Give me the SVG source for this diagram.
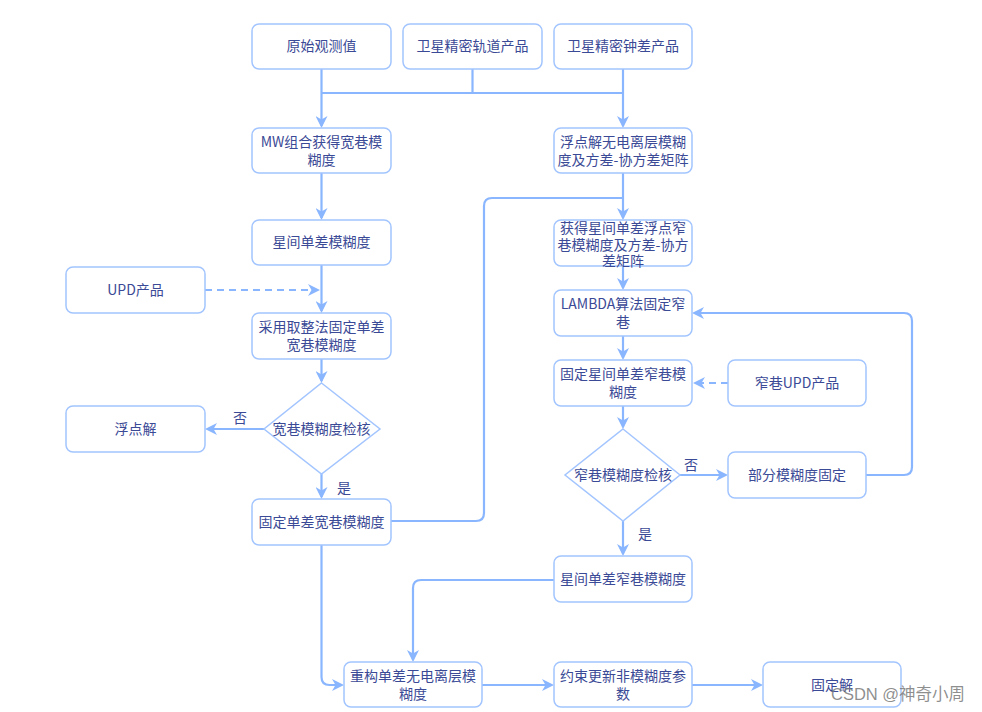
<svg xmlns="http://www.w3.org/2000/svg" width="982" height="712" viewBox="0 0 982 712">
<defs>
<style>
.box{fill:#ffffff;stroke:#a3c5ff;stroke-width:1.5}
.t{font-family:"Noto Sans CJK SC","Liberation Sans",sans-serif;font-size:14px;fill:#3b4a96;text-anchor:middle}
.l{font-family:"Noto Sans CJK SC","Liberation Sans",sans-serif;font-size:14px;fill:#3b4a96}
.c{fill:none;stroke:#8ab6ff;stroke-width:2.2}
.d{fill:none;stroke:#8ab6ff;stroke-width:2.2;stroke-dasharray:7 5}
.wm{font-family:"Liberation Sans","Noto Sans CJK SC",sans-serif;font-size:16.5px;fill:#7a7a7a;fill-opacity:0.85}
</style>
<marker id="ah" viewBox="0 0 12 12" refX="10" refY="6" markerWidth="12" markerHeight="12" markerUnits="userSpaceOnUse" orient="auto">
<path d="M0,0 L12,6 L0,12 L3.5,6 z" fill="#8ab6ff"/>
</marker>
</defs>
<rect width="982" height="712" fill="#ffffff"/>
<g id="connectors">
<path class="c" d="M321.5,69 V93"/>
<path class="c" d="M472.5,69 V93"/>
<path class="c" d="M623,69 V93"/>
<path class="c" d="M321.5,93 H623"/>
<path class="c" d="M321.5,93 V126" marker-end="url(#ah)"/>
<path class="c" d="M623,93 V126" marker-end="url(#ah)"/>
<path class="c" d="M321.5,173 V218" marker-end="url(#ah)"/>
<path class="c" d="M321.5,265 V311" marker-end="url(#ah)"/>
<path class="d" d="M205,290 H318" marker-end="url(#ah)"/>
<path class="c" d="M321.5,359 V381" marker-end="url(#ah)"/>
<path class="c" d="M264,429 H207" marker-end="url(#ah)"/>
<path class="c" d="M321.5,474 V497" marker-end="url(#ah)"/>
<path class="c" d="M391,521 H476 Q484,521 484,513 V206 Q484,198 492,198 H623"/>
<path class="c" d="M623,173 V218" marker-end="url(#ah)"/>
<path class="c" d="M623,266 V288" marker-end="url(#ah)"/>
<path class="c" d="M623,336 V358" marker-end="url(#ah)"/>
<path class="d" d="M728,383 H695" marker-end="url(#ah)"/>
<path class="c" d="M623,406 V427" marker-end="url(#ah)"/>
<path class="c" d="M680,475 H726" marker-end="url(#ah)"/>
<path class="c" d="M866,475 H904 Q912,475 912,467 V321 Q912,313 904,313 H694" marker-end="url(#ah)"/>
<path class="c" d="M623,521 V554" marker-end="url(#ah)"/>
<path class="c" d="M554,580 H421 Q413,580 413,588 V660" marker-end="url(#ah)"/>
<path class="c" d="M321.5,545 V677 Q321.5,685 329.5,685 H342" marker-end="url(#ah)"/>
<path class="c" d="M482,685 H552" marker-end="url(#ah)"/>
<path class="c" d="M692,685 H761" marker-end="url(#ah)"/>
<text class="l" x="233" y="423">否</text>
<text class="l" x="337" y="493">是</text>
<text class="l" x="684" y="470">否</text>
<text class="l" x="638" y="539">是</text>
</g>
<g id="n1"><rect class="box" x="252" y="24" width="139" height="45" rx="7"/><text class="t" x="321.5" y="51">原始观测值</text></g>
<g id="n2"><rect class="box" x="403" y="24" width="139" height="45" rx="7"/><text class="t" x="472.5" y="51">卫星精密轨道产品</text></g>
<g id="n3"><rect class="box" x="554" y="24" width="138" height="45" rx="7"/><text class="t" x="623" y="51">卫星精密钟差产品</text></g>
<g id="n4"><rect class="box" x="252" y="128" width="139" height="45" rx="7"/><text class="t" x="321.5" y="147">MW组合获得宽巷模</text><text class="t" x="321.5" y="165">糊度</text></g>
<g id="n5"><rect class="box" x="554" y="128" width="138" height="45" rx="7"/><text class="t" x="623" y="147">浮点解无电离层模糊</text><text class="t" x="623" y="165">度及方差-协方差矩阵</text></g>
<g id="n6"><rect class="box" x="252" y="220" width="139" height="45" rx="7"/><text class="t" x="321.5" y="247">星间单差模糊度</text></g>
<g id="n7"><rect class="box" x="66" y="267" width="139" height="46" rx="7"/><text class="t" x="135.5" y="295">UPD产品</text></g>
<g id="n8"><rect class="box" x="252" y="313" width="139" height="46" rx="7"/><text class="t" x="321.5" y="332">采用取整法固定单差</text><text class="t" x="321.5" y="350">宽巷模糊度</text></g>
<g id="n9"><polygon class="box" points="321.5,383 380,429 321.5,474 264,429"/><text class="t" x="321.5" y="434">宽巷模糊度检核</text></g>
<g id="n10"><rect class="box" x="66" y="406" width="139" height="46" rx="7"/><text class="t" x="135.5" y="434">浮点解</text></g>
<g id="n11"><rect class="box" x="252" y="499" width="139" height="46" rx="7"/><text class="t" x="321.5" y="527">固定单差宽巷模糊度</text></g>
<g id="n12"><rect class="box" x="554" y="220" width="138" height="46" rx="7"/><text class="t" x="623" y="233">获得星间单差浮点窄</text><text class="t" x="623" y="250">巷模糊度及方差-协方</text><text class="t" x="623" y="266">差矩阵</text></g>
<g id="n13"><rect class="box" x="554" y="290" width="138" height="46" rx="7"/><text class="t" x="623" y="309">LAMBDA算法固定窄</text><text class="t" x="623" y="327">巷</text></g>
<g id="n14"><rect class="box" x="554" y="360" width="138" height="46" rx="7"/><text class="t" x="623" y="379">固定星间单差窄巷模</text><text class="t" x="623" y="397">糊度</text></g>
<g id="n15"><rect class="box" x="728" y="360" width="138" height="46" rx="7"/><text class="t" x="797" y="388">窄巷UPD产品</text></g>
<g id="n16"><polygon class="box" points="623,429 680,475 623,521 565,475"/><text class="t" x="623" y="480">窄巷模糊度检核</text></g>
<g id="n17"><rect class="box" x="728" y="452" width="138" height="46" rx="7"/><text class="t" x="797" y="480">部分模糊度固定</text></g>
<g id="n18"><rect class="box" x="554" y="556" width="138" height="46" rx="7"/><text class="t" x="623" y="584">星间单差窄巷模糊度</text></g>
<g id="n19"><rect class="box" x="344" y="662" width="138" height="45" rx="7"/><text class="t" x="413" y="681">重构单差无电离层模</text><text class="t" x="413" y="699">糊度</text></g>
<g id="n20"><rect class="box" x="554" y="662" width="138" height="45" rx="7"/><text class="t" x="623" y="681">约束更新非模糊度参</text><text class="t" x="623" y="699">数</text></g>
<g id="n21"><rect class="box" x="763" y="662" width="138" height="45" rx="7"/><text class="t" x="832" y="690">固定解</text></g>
<text class="wm" x="831" y="700">CSDN @神奇小周</text>
</svg>
